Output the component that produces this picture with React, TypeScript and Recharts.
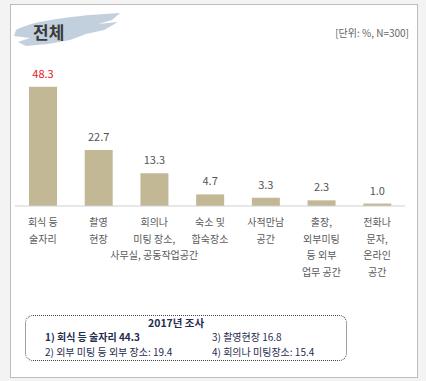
import React from 'react';
import { BarChart, Bar, XAxis, YAxis, LabelList } from 'recharts';

const categories = [
    ['회식 등', '술자리'],
    ['촬영', '현장'],
    ['회의나', '미팅 장소,', '사무실, 공동작업공간'],
    ['숙소 및', '합숙장소'],
    ['사적만남', '공간'],
    ['출장,', '외부미팅', '등 외부', '업무 공간'],
    ['전화나', '문자,', '온라인', '공간'],
];
const values = [48.3, 22.7, 13.3, 4.7, 3.3, 2.3, 1.0];

const title = '전체';
const unitNote = '[단위: %, N=300]';
const surveyTitle = '2017년 조사';
const surveyItems = [
    '1) 회식 등 술자리 44.3',
    '3) 촬영현장 16.8',
    '2) 외부 미팅 등 외부 장소: 19.4',
    '4) 회의나 미팅장소: 15.4',
];

const data = values.map((v, i) => ({ name: String(i), value: v }));

const FONT = '"Noto Sans CJK KR", "Noto Sans", sans-serif';

const CategoryTick = (props: any) => {
    const { x, y, payload } = props;
    const lines = categories[Number(payload.value)] || [];
    return (
        <text x={x} y={y} textAnchor="middle" fontSize={10} fill="#5a5a5a" fontFamily={FONT}>
            {lines.map((line, i) => (
                <tspan key={i} x={x} dy={i === 0 ? 12 : 16.5}>
                    {line}
                </tspan>
            ))}
        </text>
    );
};

const ValueLabel = (props: any) => {
    const { x, y, width, value, index } = props;
    return (
        <text
            x={x + width / 2}
            y={y - 9}
            textAnchor="middle"
            fontSize={11}
            fontFamily={FONT}
            fill={index === 0 ? '#e8141e' : '#555'}
        >
            {Number(value).toFixed(1)}
        </text>
    );
};

const App = () => {
    return (
        <div
            style={{
                position: 'fixed',
                left: 0,
                top: 0,
                width: 426,
                height: 381,
                background: '#f3f3f3',
                fontFamily: FONT,
                overflow: 'hidden',
            }}
        >
            {/* frame */}
            <div
                style={{
                    position: 'absolute',
                    left: 10,
                    top: 4,
                    width: 406,
                    height: 372,
                    background: '#fff',
                    border: '1px solid #bdbdbd',
                }}
            />

            {/* brush stroke behind title */}
            <svg width={426} height={60} style={{ position: 'absolute', left: 0, top: 0 }}>
                <path
                    d="M16 30 C30 22 60 18 90 15 L120 13 L112 20 L98 24 L118 22 L104 30 L86 34 L70 40 L48 44 L26 46 L18 42 L30 38 L14 36 Z"
                    fill="#c2cfdd"
                />
            </svg>
            <div
                style={{
                    position: 'absolute',
                    left: 33,
                    top: 21,
                    fontSize: 17,
                    fontWeight: 700,
                    color: '#3a3a3a',
                    lineHeight: '22px',
                }}
            >
                {title}
            </div>
            <div
                style={{
                    position: 'absolute',
                    right: 17,
                    top: 26,
                    fontSize: 10,
                    color: '#666',
                    lineHeight: '14px',
                }}
            >
                {unitNote}
            </div>

            <div style={{ position: 'absolute', left: 0, top: 0 }}>
                <BarChart
                    width={426}
                    height={381}
                    data={data}
                    margin={{ top: 58, right: 21, bottom: 0, left: 15 }}
                    barCategoryGap={0}
                >
                    <XAxis
                        dataKey="name"
                        height={175}
                        interval={0}
                        tickLine={false}
                        axisLine={{ stroke: '#d0d0d0' }}
                        tick={<CategoryTick />}
                    />
                    <YAxis hide domain={[0, 60]} />
                    <Bar dataKey="value" fill="#c3b895" barSize={28} isAnimationActive={false}>
                        <LabelList dataKey="value" content={<ValueLabel />} />
                    </Bar>
                </BarChart>
            </div>

            {/* 2017 survey box */}
            <div
                style={{
                    position: 'absolute',
                    left: 25,
                    top: 315,
                    width: 320,
                    height: 44,
                    border: '1.5px dotted #444',
                    borderRadius: 8,
                }}
            />
            <div
                style={{
                    position: 'absolute',
                    left: 148,
                    top: 315.5,
                    fontSize: 10.5,
                    fontWeight: 700,
                    color: '#1f2d4f',
                    lineHeight: '14px',
                }}
            >
                {surveyTitle}
            </div>
            {surveyItems.map((item, i) => (
                <div
                    key={i}
                    style={{
                        position: 'absolute',
                        left: i % 2 === 0 ? 45 : 212,
                        top: i < 2 ? 330 : 344.5,
                        fontSize: 10,
                        fontWeight: i === 0 ? 700 : 400,
                        color: '#1f2d4f',
                        lineHeight: '14px',
                        whiteSpace: 'nowrap',
                    }}
                >
                    {item}
                </div>
            ))}
        </div>
    );
};

export default App;
